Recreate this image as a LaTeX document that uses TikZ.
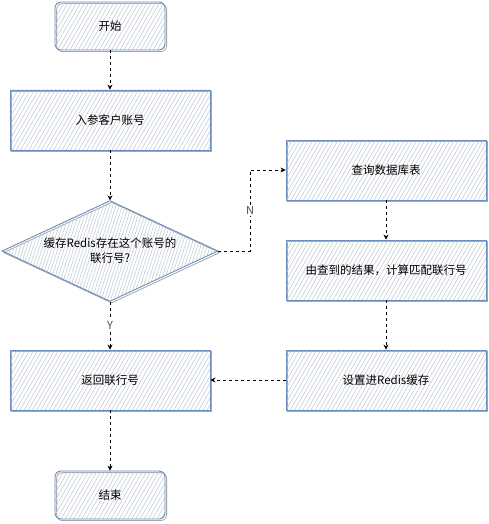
\documentclass[tikz,border=0pt]{standalone}
\usepackage{fontspec}
\setmainfont{Noto Sans CJK SC}
\usepackage{tikz}
\usetikzlibrary{arrows.meta,shapes.geometric,patterns.meta}
\definecolor{edgeblue}{HTML}{6C8EBF}
\definecolor{hatch}{HTML}{C4CCD6}
\tikzset{%
    >={Stealth[length=5pt,width=5pt]},
    sketch/.style={draw=edgeblue,line width=0.9pt,
        pattern={Lines[angle=60,distance=3.6pt,line width=0.6pt]},pattern color=hatch,
        preaction={draw=gray!70,line width=0.8pt,transform canvas={shift={(1.6pt,-1.6pt)}}},
        font=\fontsize{11.5}{15}\selectfont,align=center,inner sep=0pt},
    stepbox/.style={sketch,rectangle,minimum width=200pt,minimum height=60pt},
    endbox/.style={sketch,rectangle,rounded corners=6pt,minimum width=110pt,minimum height=48pt},
    choice/.style={sketch,diamond,aspect=1.77,minimum width=216pt,
        pattern={Lines[angle=72,distance=3pt,line width=0.6pt]}},
    flow/.style={->,dashed,line width=0.7pt},
    tag/.style={fill=white,inner sep=1.5pt,text=gray!60!black,font=\fontsize{11}{13}\selectfont}
}

\begin{document}
\begin{tikzpicture}[x=1pt,y=-1pt]
      \useasboundingbox (0,0) rectangle (488,524);

      % left column
      \node[endbox] (start) at (110,26) {开始};
      \node[stepbox] (input) at (110,120) {入参客户账号};
      \node[choice] (check) at (110,251) {缓存Redis存在这个账号的\\联行号?};
      \node[stepbox] (ret) at (110,380) {返回联行号};
      \node[endbox] (stop) at (110,495) {结束};

      % right column
      \node[stepbox] (query) at (386,170) {查询数据库表};
      \node[stepbox] (match) at (386,270) {由查到的结果，计算匹配联行号};
      \node[stepbox] (cache) at (386,380) {设置进Redis缓存};

      \coordinate (nbend) at (250,251);

      \draw[flow] (start) -- (input);
      \draw[flow] (input) -- (check);
      \draw[flow] (check.east) -- (nbend) |- (query.west) node[tag,pos=0.25] {N};
      \draw[flow] (check.south) -- (ret.north) node[tag,midway] {Y};
      \draw[flow] (query) -- (match);
      \draw[flow] (match) -- (cache);
      \draw[flow] (cache) -- (ret);
      \draw[flow] (ret) -- (stop);
\end{tikzpicture}
\end{document}
